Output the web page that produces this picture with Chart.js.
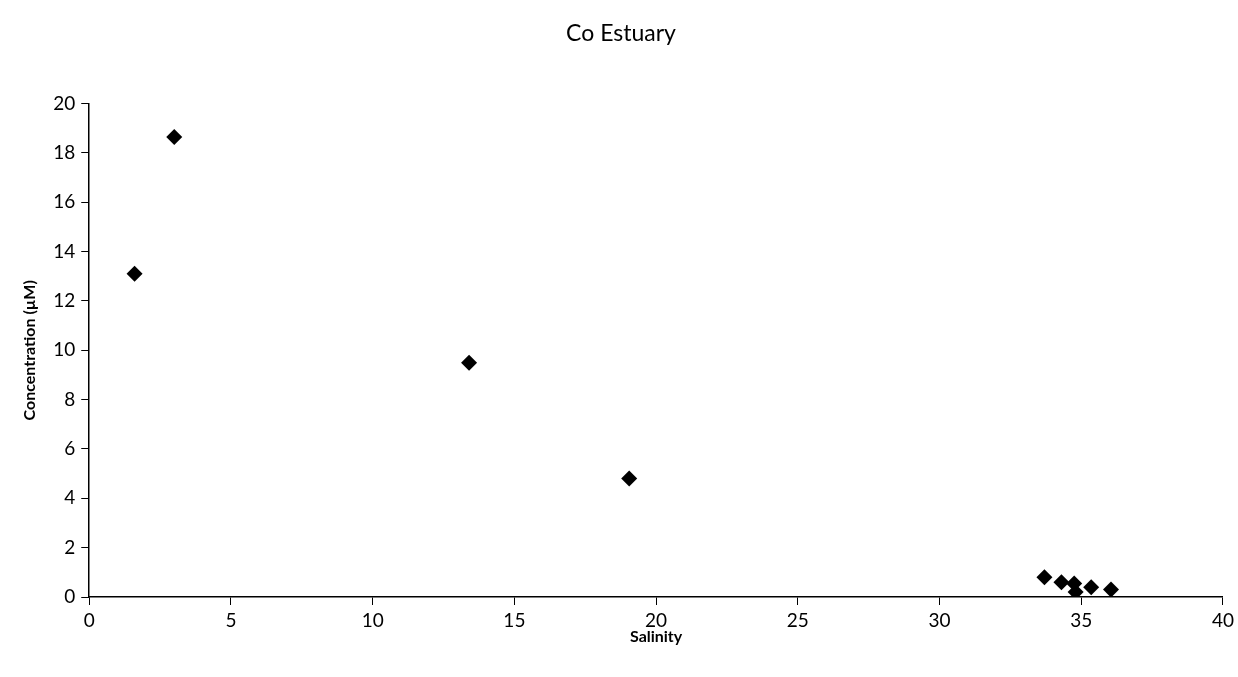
<!DOCTYPE html>
<html>
<head>
<meta charset="utf-8">
<script src="https://cdn.jsdelivr.net/npm/chart.js@4/dist/chart.umd.min.js"></script>
<style>
  html, body { margin: 0; padding: 0; background: #fff; }
  #chart { display: block; }
</style>
</head>
<body>
<canvas id="chart" width="1238" height="677"></canvas>
<script>
// salinity vs dissolved Co
var salinity = [1.6, 3.0, 13.4, 19.05, 33.7, 34.3, 34.75, 34.8, 35.35, 36.05];
var cobalt   = [13.1, 18.65, 9.5, 4.8, 0.8, 0.6, 0.55, 0.2, 0.4, 0.3];

var xTicks = [0, 5, 10, 15, 20, 25, 30, 35, 40];
var yTicks = [0, 2, 4, 6, 8, 10, 12, 14, 16, 18, 20];

var FONT = "Lato, 'Open Sans', 'DejaVu Sans', sans-serif";

var points = salinity.map(function(s, i) {
    return { x: s, y: cobalt[i] };
});

var ctx = document.getElementById('chart');
new Chart(ctx, {
    type: 'scatter',
    data: {
        datasets: [{
            label: 'Co',
            data: points,
            pointStyle: 'rectRot',
            pointRadius: 8,
            pointHoverRadius: 8,
            backgroundColor: '#000',
            borderColor: '#000',
            borderWidth: 0
        }]
    },
    options: {
        responsive: false,
        animation: false,
        layout: { padding: { left: 16, right: 12, top: 20, bottom: 31 } },
        plugins: {
            legend: { display: false },
            tooltip: { enabled: false },
            title: {
                display: true,
                text: 'Co Estuary',
                color: '#000',
                font: { family: FONT, size: 23, weight: 'normal' },
                padding: { top: 0, bottom: 56 }
            }
        },
        scales: {
            x: {
                type: 'linear',
                min: 0,
                max: 40,
                afterBuildTicks: function(scale) {
                    scale.ticks = xTicks.map(function(v) { return { value: v }; });
                },
                grid: {
                    drawOnChartArea: false,
                    drawTicks: true,
                    tickLength: 8,
                    color: '#000'
                },
                border: { color: '#000', width: 1.5 },
                ticks: {
                    color: '#000',
                    padding: 4,
                    font: { family: FONT, size: 19 }
                },
                title: {
                    display: true,
                    text: 'Salinity',
                    color: '#000',
                    font: { family: FONT, size: 16, weight: 'bold' },
                    padding: { top: -9, bottom: 0 }
                }
            },
            y: {
                type: 'linear',
                min: 0,
                max: 20,
                afterBuildTicks: function(scale) {
                    scale.ticks = yTicks.map(function(v) { return { value: v }; });
                },
                grid: {
                    drawOnChartArea: false,
                    drawTicks: true,
                    tickLength: 8,
                    color: '#000'
                },
                border: { color: '#000', width: 1.5 },
                ticks: {
                    color: '#000',
                    padding: 6,
                    font: { family: FONT, size: 19 }
                },
                title: {
                    display: true,
                    text: 'Concentration (µM)',
                    color: '#000',
                    font: { family: FONT, size: 16, weight: 'bold' },
                    padding: { bottom: 8 }
                }
            }
        }
    }
});
</script>
</body>
</html>
